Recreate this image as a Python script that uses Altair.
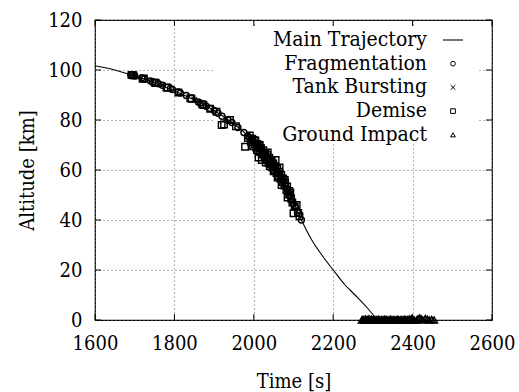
import altair as alt
import pandas as pd

FONT = "DejaVu Serif Condensed, DejaVu Serif, serif"
FS = 20

# Main trajectory
traj_t = [1600, 1650, 1700, 1750, 1800, 1850, 1900, 1950, 2000, 2025, 2050, 2075, 2100, 2120, 2146, 2175, 2200, 2230, 2255, 2285, 2311]
traj_alt = [101.7, 100.0, 97.6, 94.9, 91.6, 88.0, 83.8, 78.4, 71.5, 67.0, 62.0, 55.6, 47.3, 40.0, 32.0, 25.2, 20.0, 14.0, 10.0, 5.0, 0.0]

# Fragmentation (circles)
frag_t = [1690, 1693, 1700, 1718, 1725, 1740, 1745, 1760, 1770, 1790, 1795, 1810, 1815, 1830, 1860, 1865, 1880, 1890,
          1900, 1910, 1920, 1935, 1945, 1960, 1975, 1985, 1995, 2005, 2010, 2015, 2020, 2025, 2030, 2035, 2040,
          2045, 2050, 2055, 2060, 2065, 2070, 2075, 2080, 2085, 2090, 2095, 2100, 2105, 2110, 2120]
frag_alt = [98.0, 97.8, 97.6, 96.8, 96.5, 95.6, 95.3, 94.5, 93.9, 92.6, 92.2, 91.2, 90.8, 89.8, 87.2, 86.8, 85.5, 84.6,
            83.8, 82.7, 81.5, 80.0, 79.0, 77.0, 75.0, 73.5, 72.0, 70.5, 69.5, 68.5, 68.0, 67.0, 66.0, 65.0, 64.0,
            63.0, 62.0, 60.5, 59.5, 58.5, 57.0, 55.5, 54.0, 52.0, 50.0, 48.0, 46.5, 45.0, 43.0, 40.0]

# Tank bursting (crosses)
tank_t = [1700, 1770, 1850, 1930, 1990, 2000, 2010, 2020, 2030, 2040, 2050, 2060, 2075, 2090]
tank_alt = [97.5, 94.0, 88.0, 80.5, 72.5, 71.0, 69.8, 67.6, 65.8, 64.2, 61.8, 59.8, 55.4, 50.2]

# Demise (squares)
dem_t = [1692, 1697, 1720, 1723, 1750, 1753, 1780, 1783, 1810, 1840, 1843, 1870, 1873, 1890, 1906, 1919, 1925, 1940,
         1955, 1978, 1985, 1990, 1993, 1996, 1998, 2000, 2002, 2004, 2006, 2008, 2009, 2011, 2012, 2013, 2015, 2016,
         2018, 2020, 2022, 2024, 2025, 2027, 2029, 2030, 2032, 2034, 2035, 2037, 2039, 2040, 2042, 2044, 2045, 2047,
         2049, 2050, 2052, 2054, 2055, 2057, 2059, 2060, 2062, 2064, 2065, 2067, 2069, 2070, 2072, 2074, 2077, 2078,
         2079, 2082, 2084, 2085, 2087, 2089, 2092, 2094, 2097, 2100, 2103, 2108, 2112, 2115]
dem_alt = [98.0, 97.9, 96.5, 96.6, 95.0, 94.8, 93.0, 92.9, 91.0, 88.7, 88.5, 86.3, 86.0, 84.5, 83.3, 78.0, 78.2, 80.0,
           77.5, 69.3, 72.8, 73.8, 71.2, 72.5, 69.5, 72.0, 70.2, 71.8, 69.0, 68.0, 70.4, 67.8, 65.0, 69.6, 70.0, 67.2,
           68.8, 64.0, 66.2, 67.9, 66.5, 65.1, 66.8, 63.0, 64.3, 66.0, 67.0, 63.0, 64.9, 61.5, 62.3, 64.0, 63.5, 61.0,
           62.6, 59.5, 60.0, 61.5, 64.0, 58.8, 60.4, 57.0, 57.6, 59.3, 61.0, 56.5, 58.0, 54.0, 55.2, 56.6, 53.8, 56.0,
           55.0, 52.0, 53.4, 49.0, 50.2, 51.6, 51.0, 48.6, 47.0, 42.7, 45.4, 46.0, 42.8, 41.5]

# Ground impact (triangles)
gi_t = [2272, 2275, 2278, 2281, 2284, 2287, 2290, 2293, 2296, 2299, 2302, 2305, 2308, 2311, 2314, 2317, 2320, 2323,
        2326, 2329, 2332, 2335, 2338, 2341, 2344, 2347, 2350, 2353, 2356, 2359, 2362, 2365, 2368, 2371, 2374, 2377,
        2380, 2383, 2386, 2389, 2392, 2395, 2398, 2401, 2404, 2410, 2414, 2418, 2422, 2426, 2432, 2437, 2442, 2448,
        2454]
gi_alt = [0.0, 0.3, 0.0, 0.4, 0.0, 0.2, 0.5, 0.0, 0.3, 0.0, 0.4, 0.0, 0.2, 0.0, 0.3, 0.0, 0.0, 0.2, 0.0, 0.3, 0.0,
          0.2, 0.0, 0.0, 0.3, 0.0, 0.0, 0.2, 0.0, 0.0, 0.3, 0.0, 0.0, 0.2, 0.0, 0.0, 0.3, 0.0, 0.2, 0.0, 0.4, 0.0,
          0.6, 0.2, 0.0, 0.0, 0.5, 0.8, 0.4, 0.0, 0.6, 0.3, 0.0, 0.2, 0.0]

x_ticks = [1600, 1800, 2000, 2200, 2400, 2600]
y_ticks = [0, 20, 40, 60, 80, 100, 120]

legend_labels = ["Main Trajectory", "Fragmentation", "Tank Bursting", "Demise", "Ground Impact"]

W, H = 397, 300
XSHAPE = "M-1,-1L1,1M-1,1L1,-1"

traj = pd.DataFrame({"t": traj_t, "alt": traj_alt})
frag = pd.DataFrame({"t": frag_t, "alt": frag_alt})
tank = pd.DataFrame({"t": tank_t, "alt": tank_alt})
dem = pd.DataFrame({"t": dem_t, "alt": dem_alt})
gi = pd.DataFrame({"t": gi_t, "alt": gi_alt})
xt = pd.DataFrame({"t": x_ticks})
yt = pd.DataFrame({"alt": y_ticks})

xscale = alt.Scale(domain=[1600, 2600], nice=False)
yscale = alt.Scale(domain=[0, 120], nice=False)

xaxis = alt.Axis(title="Time [s]", values=x_ticks, format="d", grid=True, gridDash=[1, 3], gridColor="#666",
                 gridWidth=1, ticks=False, domain=False, labelFont=FONT, labelFontSize=FS, labelColor="black",
                 labelPadding=13, labelFlush=False, titleFont=FONT, titleFontSize=FS, titleFontWeight="normal",
                 titleColor="black", titleY=61, titleBaseline="middle")
yaxis = alt.Axis(title="Altitude [km]", values=y_ticks, grid=True, gridDash=[1, 3], gridColor="#666",
                 gridWidth=1, ticks=False, domain=False, labelFont=FONT, labelFontSize=FS, labelColor="black",
                 labelPadding=13, labelBaseline="middle", labelFlush=False, titleFont=FONT, titleFontSize=FS,
                 titleFontWeight="normal", titleColor="black", titleX=-68, titleY=150, titleBaseline="middle",
                 titleAlign="center", titleAngle=-90)

axes_holder = alt.Chart(traj).mark_line(opacity=0).encode(
    x=alt.X("t:Q", scale=xscale, axis=xaxis),
    y=alt.Y("alt:Q", scale=yscale, axis=yaxis),
)

traj_line = alt.Chart(traj).mark_line(color="black", strokeWidth=1.1, interpolate="monotone").encode(
    x=alt.X("t:Q", scale=xscale),
    y=alt.Y("alt:Q", scale=yscale),
)

keybox = alt.Chart(pd.DataFrame({"k": [0]})).mark_rect(color="white").encode(
    x=alt.value(118), x2=alt.value(382), y=alt.value(7), y2=alt.value(123)
)

tick_style = dict(color="black", strokeWidth=1)
xb = alt.Chart(xt).mark_rule(**tick_style).encode(x=alt.X("t:Q", scale=xscale), y=alt.value(H), y2=alt.value(H - 6))
xtop = alt.Chart(xt).mark_rule(**tick_style).encode(x=alt.X("t:Q", scale=xscale), y=alt.value(0), y2=alt.value(6))
yl = alt.Chart(yt).mark_rule(**tick_style).encode(y=alt.Y("alt:Q", scale=yscale), x=alt.value(0), x2=alt.value(6))
yr = alt.Chart(yt).mark_rule(**tick_style).encode(y=alt.Y("alt:Q", scale=yscale), x=alt.value(W), x2=alt.value(W - 6))


def pts(df, shape, size, sw=1.4):
    return alt.Chart(df).mark_point(shape=shape, size=size, filled=False, color="black", strokeWidth=sw,
                                    opacity=1).encode(
        x=alt.X("t:Q", scale=xscale), y=alt.Y("alt:Q", scale=yscale))


p_dem = pts(dem, "square", 42)
p_frag = pts(frag, "circle", 36)
p_tank = pts(tank, XSHAPE, 30)
p_gi = pts(gi, "triangle-up", 44, 1.6)

lx, ly0, dy = 332, 20, 23.7
leg_layers = []
for i, lab in enumerate(legend_labels):
    leg_layers.append(
        alt.Chart(pd.DataFrame({"label": [lab]})).mark_text(font=FONT, fontSize=21, align="right",
                                                             baseline="middle", color="black").encode(
            text="label:N", x=alt.value(lx), y=alt.value(ly0 + i * dy)))
leg_line = alt.Chart(pd.DataFrame({"k": [0]})).mark_rule(color="black", strokeWidth=1.1).encode(
    x=alt.value(348), x2=alt.value(368), y=alt.value(ly0))
shapes = ["circle", XSHAPE, "square", "triangle-up"]
for i, sh in enumerate(shapes):
    leg_layers.append(
        alt.Chart(pd.DataFrame({"k": [0]})).mark_point(shape=sh, size=22, filled=False, color="black",
                                                       strokeWidth=1, opacity=1).encode(
            x=alt.value(358), y=alt.value(ly0 + (i + 1) * dy)))

chart = alt.layer(axes_holder, keybox, xb, xtop, yl, yr, traj_line, p_dem, p_frag, p_tank, p_gi, leg_line,
                  *leg_layers).properties(
    width=W, height=H,
    autosize=alt.AutoSizeParams(type="none"),
    padding={"left": 95, "top": 20, "right": 27, "bottom": 72},
    background="white",
).configure_view(stroke="black", strokeWidth=1.2)

chart.save("out.html", embed_options={"renderer": "svg", "actions": False})
